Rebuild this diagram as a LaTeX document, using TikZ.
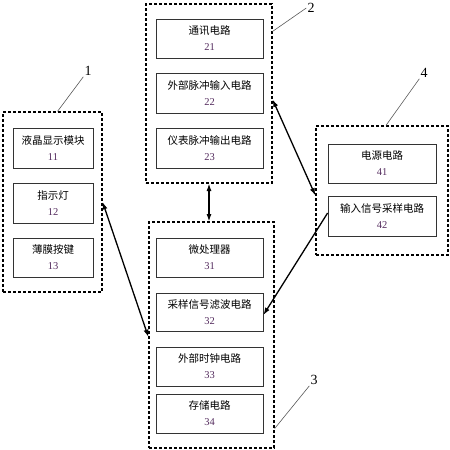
\documentclass[tikz,border=0pt]{standalone}
\usepackage{fontspec}
\setmainfont{Liberation Serif}
\newfontfamily\cjk{Noto Sans CJK SC}
\usepackage{tikz}
\usetikzlibrary{arrows.meta}
\definecolor{numcol}{RGB}{85,45,95}
\newcommand{\blk}[2]{{\cjk #1}\\[4pt]{\color{numcol}#2}}

\begin{document}
\begin{tikzpicture}[x=1pt, y=-1pt,
    group/.style={draw, line width=1.2pt, dash pattern=on 3pt off 2pt},
    unitbox/.style={draw=black!80, line width=0.8pt, align=center, inner sep=0pt,
      font=\fontsize{10.5}{12}\selectfont},
    link/.style={line width=1.3pt, {Latex[length=2.6mm,width=1.8mm]}-{Latex[length=2.6mm,width=1.8mm]}},
    lead/.style={draw=black!65, line width=0.6pt},
    tag/.style={font=\fontsize{14}{14}\selectfont, inner sep=1pt}]
  \useasboundingbox (0, 0) rectangle (450, 450);

  % group 1
  \node[group, minimum width=99pt, minimum height=180pt] (g1) at (52.5, 202) {};
  \node[unitbox, minimum width=80pt, minimum height=40pt] (b11) at (53, 148) {\blk{液晶显示模块}{11}};
  \node[unitbox, minimum width=80pt, minimum height=40pt] (b12) at (53, 203) {\blk{指示灯}{12}};
  \node[unitbox, minimum width=80pt, minimum height=39pt] (b13) at (53, 257.5) {\blk{薄膜按键}{13}};

  % group 2
  \node[group, minimum width=126pt, minimum height=179pt] (g2) at (209, 93.5) {};
  \node[unitbox, minimum width=107pt, minimum height=39pt] (b21) at (209.5, 38.5) {\blk{通讯电路}{21}};
  \node[unitbox, minimum width=107pt, minimum height=40pt] (b22) at (209.5, 93) {\blk{外部脉冲输入电路}{22}};
  \node[unitbox, minimum width=107pt, minimum height=40pt] (b23) at (209.5, 148) {\blk{仪表脉冲输出电路}{23}};

  % group 3
  \node[group, minimum width=125pt, minimum height=226pt] (g3) at (211.5, 335) {};
  \node[unitbox, minimum width=107pt, minimum height=39pt] (b31) at (209.5, 257.5) {\blk{微处理器}{31}};
  \node[unitbox, minimum width=107pt, minimum height=38pt] (b32) at (209.5, 312) {\blk{采样信号滤波电路}{32}};
  \node[unitbox, minimum width=107pt, minimum height=39pt] (b33) at (209.5, 366.5) {\blk{外部时钟电路}{33}};
  \node[unitbox, minimum width=107pt, minimum height=39pt] (b34) at (209.5, 413.5) {\blk{存储电路}{34}};

  % group 4
  \node[group, minimum width=132pt, minimum height=129pt] (g4) at (382, 190.5) {};
  \node[unitbox, minimum width=108pt, minimum height=39pt] (b41) at (382, 163.5) {\blk{电源电路}{41}};
  \node[unitbox, minimum width=108pt, minimum height=40pt] (b42) at (382, 216) {\blk{输入信号采样电路}{42}};

  % labels
  \node[tag] (l1) at (88, 71) {1};
  \node[tag] (l2) at (311, 8) {2};
  \node[tag] (l3) at (314, 380) {3};
  \node[tag] (l4) at (424, 73) {4};
  \draw[lead] ([xshift=5pt]g1.north) -- (l1.south west);
  \draw[lead] ([yshift=-28pt]g2.north east) -- (l2.west);
  \draw[lead] ([yshift=20pt]g3.south east) -- (l3.south west);
  \draw[lead] ([xshift=4pt]g4.north) -- (l4.south west);

  % links
  \draw[link] (g1.east) -- ([yshift=-2pt]g3.west);
  \draw[link] (g2.south) -- (g2.south |- g3.north);
  \draw[link] ([yshift=-6pt]g2.east) -- ([yshift=-5pt]g4.west);
  \draw[line width=1.3pt, -{Latex[length=2.6mm,width=1.8mm]}] ([yshift=3pt]b42.west) -- ([yshift=-3pt]b32.east);
\end{tikzpicture}
\end{document}
